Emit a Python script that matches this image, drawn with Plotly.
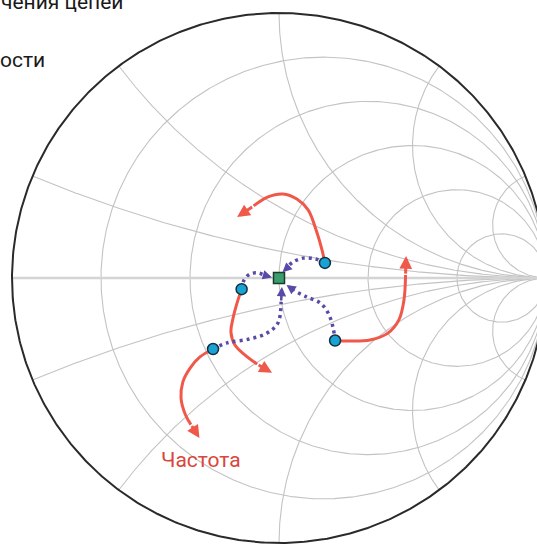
import numpy as np
import plotly.graph_objects as go

# Smith chart grid values (normalized resistance / reactance)
resistance_values = [0.2, 0.5, 1.0, 2.0, 5.0]
reactance_values = [0.2, 0.5, 1.0, 2.0, 5.0]

# Reflection-coefficient coordinates (Re Γ, Im Γ) of the marked points
matched_point = (0.0, 0.0)
start_re = [0.172, -0.140, -0.247, 0.210]
start_im = [0.057, -0.042, -0.268, -0.236]

# Matching paths (dotted) from each start point toward the centre
match_paths = [
    ([0.172, 0.135, 0.090, 0.052, 0.026], [0.057, 0.072, 0.075, 0.060, 0.034]),
    ([-0.140, -0.131, -0.109, -0.079, -0.050], [-0.042, -0.008, 0.015, 0.019, 0.009]),
    ([-0.247, -0.195, -0.109, -0.045, -0.004, 0.008], [-0.268, -0.245, -0.230, -0.208, -0.170, -0.090]),
    ([0.210, 0.202, 0.184, 0.154, 0.105, 0.064], [-0.236, -0.185, -0.132, -0.094, -0.072, -0.052]),
]
match_tips = [(0.013, 0.022), (-0.026, 0.002), (0.011, -0.034), (0.028, -0.026)]

# Frequency sweep traces (solid) leaving each start point
sweep_paths = [
    ([0.172, 0.161, 0.139, 0.109, 0.067, 0.015, -0.041, -0.095],
     [0.057, 0.106, 0.181, 0.257, 0.298, 0.317, 0.306, 0.272]),
    ([-0.140, -0.157, -0.172, -0.180, -0.165, -0.127, -0.082],
     [-0.042, -0.094, -0.151, -0.204, -0.253, -0.291, -0.325]),
    ([-0.247, -0.296, -0.333, -0.360, -0.367, -0.350, -0.330],
     [-0.268, -0.298, -0.340, -0.392, -0.453, -0.517, -0.553]),
    ([0.210, 0.266, 0.341, 0.408, 0.449, 0.468, 0.474],
     [-0.236, -0.238, -0.234, -0.208, -0.158, -0.083, 0.011]),
]
sweep_tips = [(-0.157, 0.230), (-0.026, -0.358), (-0.298, -0.604), (0.476, 0.083)]

sweep_label = "Частота"
header_lines = ["чения цепей", "ости"]

GRID = "#c3c3c3"
RED = "#f0584a"
PURPLE = "#5a4aa8"


def gamma(z):
    g = (z - 1) / (z + 1)
    return g.real, g.imag


fig = go.Figure()

# constant-resistance circles
t = np.linspace(-np.pi / 2 + 1e-4, np.pi / 2 - 1e-4, 600)
for r in resistance_values:
    gx, gy = gamma(r + 1j * np.tan(t))
    gx = np.append(gx, [1.0, gx[0]])
    gy = np.append(gy, [0.0, gy[0]])
    fig.add_trace(go.Scatter(x=gx, y=gy, mode="lines",
                             line=dict(color=GRID, width=1.1), hoverinfo="skip"))

# constant-reactance arcs
s = np.linspace(0, np.pi / 2 - 1e-4, 600)
for xv in reactance_values:
    for sign in (1, -1):
        gx, gy = gamma(np.tan(s) + 1j * sign * xv)
        fig.add_trace(go.Scatter(x=np.append(gx, 1.0), y=np.append(gy, 0.0), mode="lines",
                                 line=dict(color=GRID, width=1.1), hoverinfo="skip"))

# real axis
fig.add_trace(go.Scatter(x=[-1, 1], y=[0, 0], mode="lines",
                         line=dict(color="#d4d4d4", width=2.5), hoverinfo="skip"))

# outer boundary |Γ| = 1
th = np.linspace(0, 2 * np.pi, 720)
fig.add_trace(go.Scatter(x=np.cos(th), y=np.sin(th), mode="lines",
                         line=dict(color="#2a2a2a", width=2), hoverinfo="skip"))

# frequency sweeps
for (px, py), (tx, ty) in zip(sweep_paths, sweep_tips):
    fig.add_trace(go.Scatter(x=px, y=py, mode="lines", line_shape="spline",
                             line=dict(color=RED, width=3), hoverinfo="skip"))
    fig.add_annotation(x=tx, y=ty, ax=px[-1], ay=py[-1], xref="x", yref="y",
                       axref="x", ayref="y", text="", showarrow=True,
                       arrowhead=2, arrowsize=0.85, arrowwidth=3, arrowcolor=RED)

# matching paths
for (px, py), (tx, ty) in zip(match_paths, match_tips):
    fig.add_trace(go.Scatter(x=px, y=py, mode="lines", line_shape="spline",
                             line=dict(color=PURPLE, width=3.5, dash="3px,4px"),
                             hoverinfo="skip"))
    fig.add_annotation(x=tx, y=ty, ax=px[-1], ay=py[-1], xref="x", yref="y",
                       axref="x", ayref="y", text="", showarrow=True,
                       arrowhead=2, arrowsize=0.75, arrowwidth=2.5, arrowcolor=PURPLE)

# start points
fig.add_trace(go.Scatter(x=start_re, y=start_im, mode="markers",
                         marker=dict(size=11, color="#19a2d4",
                                     line=dict(color="#15303d", width=1.5)),
                         hoverinfo="skip"))
# matched point
fig.add_trace(go.Scatter(x=[matched_point[0]], y=[matched_point[1]], mode="markers",
                         marker=dict(size=11, symbol="square", color="#3a9e6c",
                                     line=dict(color="#1f3a2a", width=1.5)),
                         hoverinfo="skip"))

FONT = "Roboto, sans-serif"

fig.add_annotation(x=-0.292, y=-0.686, xref="x", yref="y", text=sweep_label,
                   showarrow=False, xanchor="center", yanchor="middle",
                   font=dict(family=FONT, size=21, color="#d9463b"))
fig.add_annotation(x=-0.002, y=1.0, xref="paper", yref="paper", text=header_lines[0],
                   showarrow=False, xanchor="left", yanchor="middle", yshift=-2,
                   font=dict(family=FONT, size=21, color="#1a1a1a"))
fig.add_annotation(x=-0.004, y=1.0, xref="paper", yref="paper", text=header_lines[1],
                   showarrow=False, xanchor="left", yanchor="middle", yshift=-60,
                   font=dict(family=FONT, size=21, color="#1a1a1a"))

fig.update_layout(
    width=537, height=545,
    margin=dict(l=0, r=0, t=0, b=0),
    paper_bgcolor="white", plot_bgcolor="white",
    showlegend=False, hovermode=False,
    xaxis=dict(range=[-279 / 267, (537 - 279) / 267], visible=False, fixedrange=True),
    yaxis=dict(range=[-(545 - 278) / 265, 278 / 265], visible=False, fixedrange=True),
)

fig.write_html("out.html")
